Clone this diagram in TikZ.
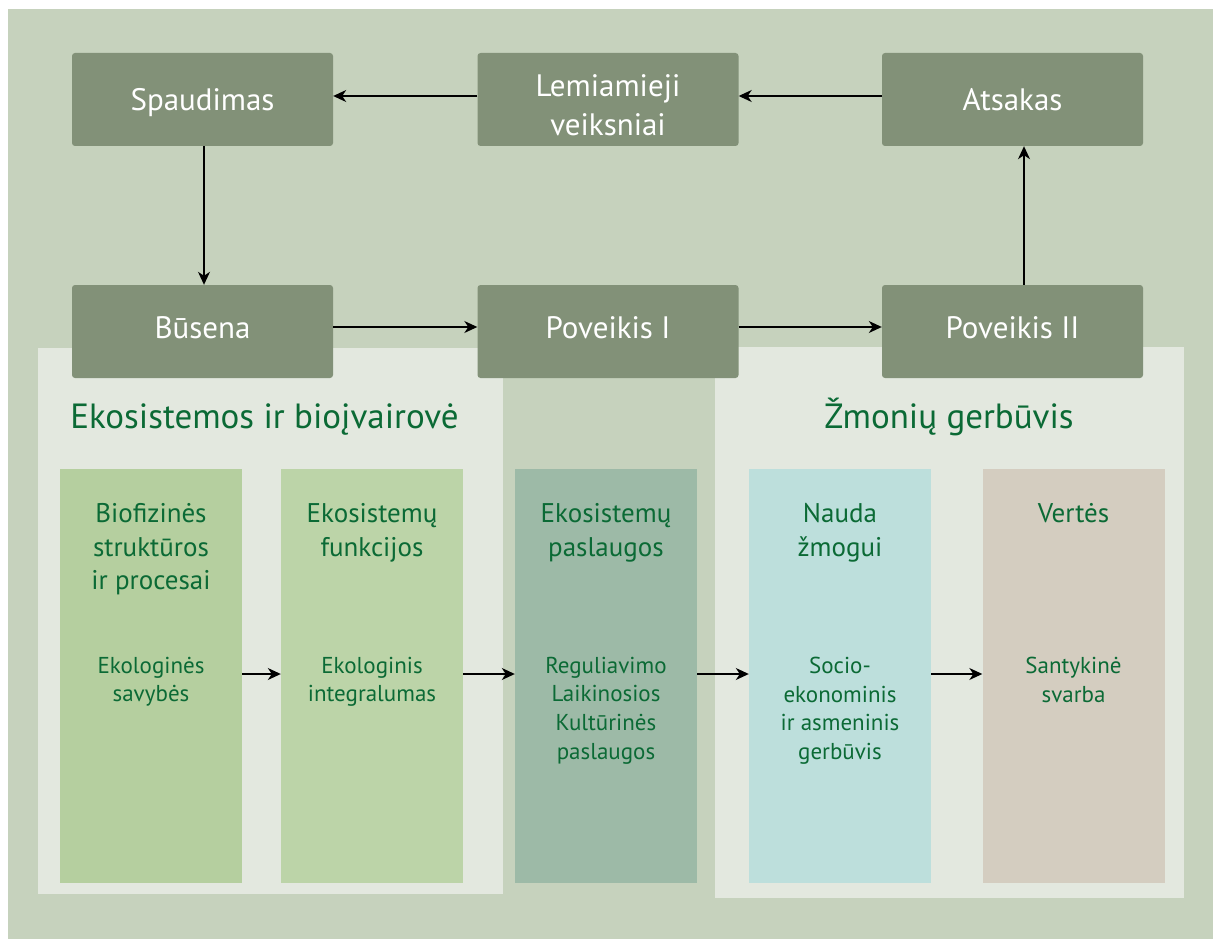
\documentclass[tikz,border=0pt]{standalone}
\usepackage{fontspec}
\setmainfont{PT Sans}
\usetikzlibrary{arrows.meta}

\definecolor{bgcol}{HTML}{C6D2BD}
\definecolor{panelcol}{HTML}{E3E8DF}
\definecolor{boxcol}{HTML}{829178}
\definecolor{txtgreen}{HTML}{0B6A35}
\definecolor{colA}{HTML}{B5CF9F}
\definecolor{colB}{HTML}{BCD4A8}
\definecolor{colC}{HTML}{9DBAA7}
\definecolor{colD}{HTML}{BDDFDC}
\definecolor{colE}{HTML}{D4CDC0}

\tikzset{
  flowbox/.style={fill=boxcol, rounded corners=3pt, minimum width=261pt, minimum height=93pt,
    inner sep=0pt, text=white, font=\fontsize{31}{39}\selectfont},
  toprow/.style={text height=28pt, text depth=6pt},
  lowrow/.style={text height=28pt, text depth=14pt},
  colbox/.style={minimum width=182pt, minimum height=414pt, inner sep=0pt},
  sectitle/.style={text=txtgreen, font=\fontsize{35}{42}\selectfont, inner sep=0pt, anchor=base},
  coltitle/.style={text=txtgreen, font=\fontsize{27}{33.5}\selectfont, align=center, inner sep=0pt, anchor=north},
  colnote/.style={text=txtgreen, font=\fontsize{23}{28.7}\selectfont, align=center, inner sep=0pt, anchor=north},
  arr/.style={draw=black, line width=1.4pt, -{Stealth[length=13pt,width=12pt,inset=4pt]}},
}

\begin{document}
\begin{tikzpicture}[x=1pt,y=-1pt]
\useasboundingbox (0,0) rectangle (1213,939);
\fill[white] (0,0) rectangle (1213,939);
\fill[bgcol] (8,9) rectangle (1213,939);

% light panels behind the two groups
\fill[panelcol] (38,348) rectangle (503,894);
\fill[panelcol] (715,347) rectangle (1184,898);

% section titles
\node[sectitle] (tEko) at (264.5,428) {Ekosistemos ir bioįvairovė};
\node[sectitle] (tZmo) at (949,428) {Žmonių gerbūvis};

% coloured columns
\node[colbox, fill=colA] (k1) at (151,676) {};
\node[colbox, fill=colB] (k2) at (372,676) {};
\node[colbox, fill=colC] (k3) at (606,676) {};
\node[colbox, fill=colD] (k4) at (840,676) {};
\node[colbox, fill=colE] (k5) at (1073.5,676) {};

% column headings
\node[coltitle] (h1) at ([yshift=-34.5pt]k1.north) {Biofizinės\\struktūros\\ir procesai};
\node[coltitle] (h2) at ([yshift=-34.5pt]k2.north) {Ekosistemų\\funkcijos};
\node[coltitle] (h3) at ([yshift=-34.5pt]k3.north) {Ekosistemų\\paslaugos};
\node[coltitle] (h4) at ([yshift=-34.5pt]k4.north) {Nauda\\žmogui};
\node[coltitle] (h5) at ([yshift=-34.5pt]k5.north) {Vertės};

% column notes
\node[colnote] (n1) at ([yshift=-188pt]k1.north) {Ekologinės\\savybės};
\node[colnote] (n2) at ([yshift=-188pt]k2.north) {Ekologinis\\integralumas};
\node[colnote] (n3) at ([yshift=-188pt]k3.north) {Reguliavimo\\Laikinosios\\Kultūrinės\\paslaugos};
\node[colnote] (n4) at ([yshift=-188pt]k4.north) {Socio-\\ekonominis\\ir asmeninis\\gerbūvis};
\node[colnote] (n5) at ([yshift=-188pt]k5.north) {Santykinė\\svarba};

% arrows between columns
\draw[arr] ([yshift=2pt]k1.east) -- ([yshift=2pt]k2.west);
\draw[arr] ([yshift=2pt]k2.east) -- ([yshift=2pt]k3.west);
\draw[arr] ([yshift=2pt]k3.east) -- ([yshift=2pt]k4.west);
\draw[arr] ([yshift=2pt]k4.east) -- ([yshift=2pt]k5.west);

% cycle boxes
\node[flowbox, toprow] (spa) at (202.5,99.5) {Spaudimas};
\node[flowbox, align=center] (lem) at (608,99.5) {\rule{0pt}{33pt}Lemiamieji\\veiksniai};
\node[flowbox, toprow] (ats) at (1012.5,99.5) {Atsakas};
\node[flowbox, lowrow] (bus) at (202.5,331.5) {Būsena};
\node[flowbox, lowrow] (pv1) at (608,331.5) {Poveikis I};
\node[flowbox, lowrow] (pv2) at (1012.5,331.5) {Poveikis II};

% cycle arrows
\draw[arr] ([yshift=3.5pt]lem.west) -- ([yshift=3.5pt]spa.east);
\draw[arr] ([yshift=3.5pt]ats.west) -- ([yshift=3.5pt]lem.east);
\draw[arr] ([xshift=1.5pt]spa.south) -- ([xshift=1.5pt]bus.north);
\draw[arr] ([yshift=4.5pt]bus.east) -- ([yshift=4.5pt]pv1.west);
\draw[arr] ([yshift=4.5pt]pv1.east) -- ([yshift=4.5pt]pv2.west);
\draw[arr] ([xshift=11.5pt]pv2.north) -- ([xshift=11.5pt]ats.south);
\end{tikzpicture}
\end{document}
